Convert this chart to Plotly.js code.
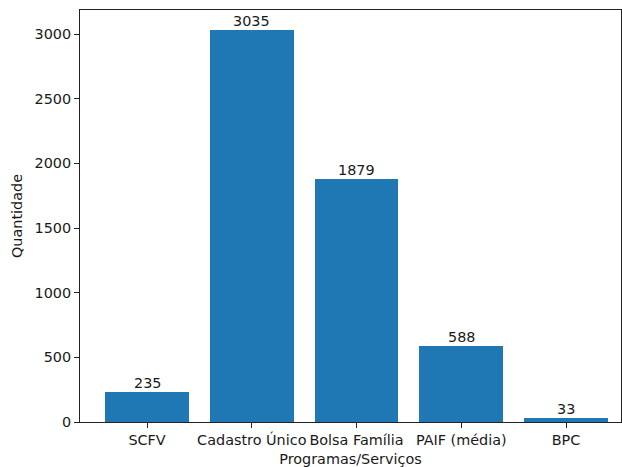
<!DOCTYPE html>
<html>
<head>
<meta charset="utf-8">
<script src="https://cdn.plot.ly/plotly-3.0.1.min.js"></script>
<style>html,body{margin:0;padding:0;background:#fff;}#chart{width:622px;height:467px;}</style>
</head>
<body>
<div id="chart"></div>
<script>
const categories = ["SCFV", "Cadastro Único", "Bolsa Família", "PAIF (média)", "BPC"];
const values = [235, 3035, 1879, 588, 33];
const yTicks = [0, 500, 1000, 1500, 2000, 2500, 3000];

const xIdx = categories.map((c, i) => i);
const font = {family: "DejaVu Sans", size: 14.4, color: "#1a1a1a"};

const trace = {
  type: "bar",
  x: xIdx,
  y: values,
  width: 0.8,
  marker: {color: "#1f77b4", line: {width: 0}},
  hoverinfo: "skip"
};

const annotations = values.map((v, i) => ({
  x: i, y: v, xref: "x", yref: "y",
  text: String(v), showarrow: false,
  yanchor: "bottom", xanchor: "center",
  font: font, yshift: -1
}));

const layout = {
  width: 622, height: 467,
  margin: {l: 80, r: 1, t: 10, b: 45},
  paper_bgcolor: "#fff", plot_bgcolor: "#fff",
  showlegend: false,
  font: font,
  bargap: 0,
  xaxis: {
    range: [-0.64, 4.525],
    tickmode: "array", tickvals: xIdx, ticktext: categories,
    ticks: "outside", ticklen: 5, tickwidth: 1, tickcolor: "#222",
    showline: true, linecolor: "#222", linewidth: 1, mirror: true,
    showgrid: false, zeroline: false,
    tickfont: font,
    title: {text: "Programas/Serviços", font: font, standoff: 6}
  },
  yaxis: {
    range: [0, 3186.75],
    tickmode: "array", tickvals: yTicks, ticktext: yTicks.map(String),
    ticks: "outside", ticklen: 5, tickwidth: 1, tickcolor: "#222",
    showline: true, linecolor: "#222", linewidth: 1, mirror: true,
    showgrid: false, zeroline: false,
    tickfont: font,
    title: {text: "Quantidade", font: font, standoff: 8}
  },
  annotations: annotations
};

Plotly.newPlot("chart", [trace], layout, {displayModeBar: false, staticPlot: true});
</script>
</body>
</html>
